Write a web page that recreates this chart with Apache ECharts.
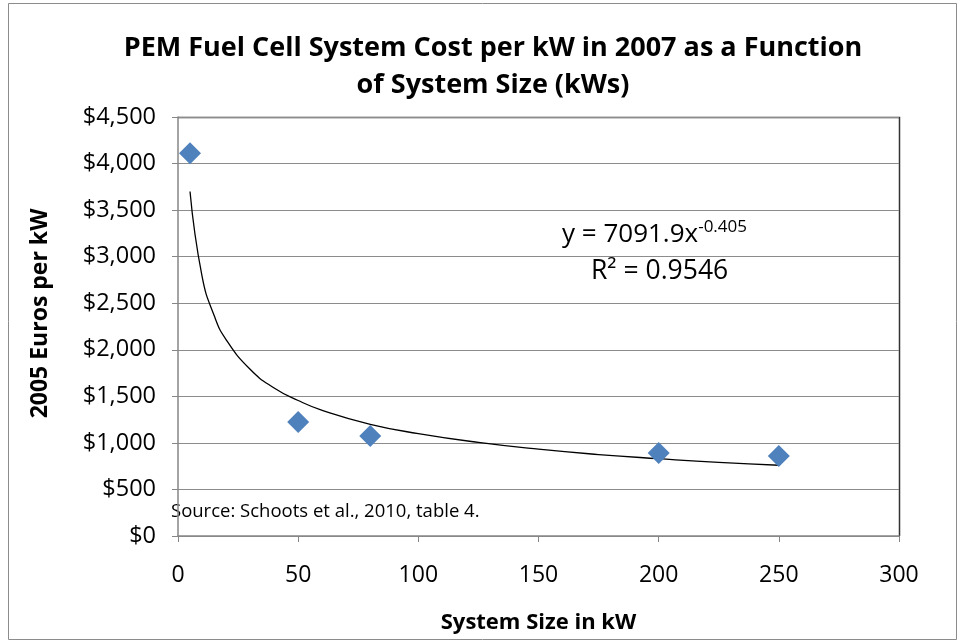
<!DOCTYPE html>
<html>
<head>
<meta charset="utf-8">
<script src="https://cdn.jsdelivr.net/npm/echarts@6/dist/echarts.min.js"></script>
<style>
  html, body { margin: 0; padding: 0; background: #fff; }
  #chart { width: 959px; height: 642px; }
</style>
</head>
<body>
<div id="chart"></div>
<script>
// observed points
const sizes = [5, 50, 80, 200, 250]
const costs = [4110, 1225, 1075, 892, 860]

// power trendline
const trendX = [5, 10, 15, 20, 30, 40, 50, 60, 80, 100, 125, 150, 175, 200, 225, 250]
const trendY = [3700, 2790, 2370, 2110, 1790, 1590, 1455, 1350, 1200, 1100, 1005, 932, 875, 830, 790, 760]

const xTicks = [0, 50, 100, 150, 200, 250, 300]
const yTicks = [0, 500, 1000, 1500, 2000, 2500, 3000, 3500, 4000, 4500]

const font = '"Open Sans", Lato, sans-serif'

const chart = echarts.init(document.getElementById('chart'))
chart.setOption({
  animation: false,
  title: {
    text: 'PEM Fuel Cell System Cost per kW in 2007 as a Function\nof System Size (kWs)',
    left: 488,
    top: 25,
    textAlign: 'center',
    textStyle: { fontFamily: font, fontSize: 27, fontWeight: 'bold', color: '#000', lineHeight: 37 }
  },
  grid: { left: 178, right: 60, top: 117, bottom: 106 },
  xAxis: {
    type: 'value',
    min: xTicks[0],
    max: xTicks[xTicks.length - 1],
    interval: 50,
    name: 'System Size in kW',
    nameLocation: 'middle',
    nameGap: 76,
    nameTextStyle: { fontFamily: font, fontSize: 22, fontWeight: 'bold', color: '#000' },
    axisLine: { lineStyle: { color: '#868686', width: 1.5 } },
    axisTick: { show: true, length: 6, lineStyle: { color: '#868686' } },
    axisLabel: { fontFamily: font, fontSize: 23, color: '#000', margin: 28 },
    splitLine: { show: false }
  },
  yAxis: {
    type: 'value',
    min: yTicks[0],
    max: yTicks[yTicks.length - 1],
    interval: 500,
    name: '2005 Euros per kW',
    nameLocation: 'middle',
    nameGap: 126,
    nameTextStyle: { fontFamily: font, fontSize: 23, fontWeight: 'bold', color: '#000', padding: [0, 0, 0, 26] },
    axisLine: { show: true, lineStyle: { color: '#868686', width: 1.5 } },
    axisTick: { show: true, length: 6, lineStyle: { color: '#868686' } },
    axisLabel: {
      fontFamily: font, fontSize: 23.5, color: '#000', margin: 22,
      formatter: v => '$' + v.toLocaleString('en-US')
    },
    splitLine: { show: true, lineStyle: { color: '#8c8c8c', width: 1.2 } }
  },
  series: [
    {
      name: 'trend',
      type: 'line',
      data: trendX.map((x, i) => [x, trendY[i]]),
      smooth: true,
      showSymbol: false,
      lineStyle: { color: '#000', width: 1.3 },
      z: 2
    },
    {
      name: 'cost',
      type: 'scatter',
      data: sizes.map((x, i) => [x, costs[i]]),
      symbol: 'diamond',
      symbolSize: [22, 22],
      itemStyle: { color: '#4F81BD', opacity: 1 },
      z: 3
    }
  ],
  graphic: [
    {
      type: 'rect',
      shape: { x: 8.5, y: 3.5, width: 948, height: 636 },
      style: { fill: null, stroke: '#8c8c8c', lineWidth: 1 },
      silent: true
    },
    {
      type: 'polyline',
      shape: { points: [[178, 117.5], [899.5, 117.5], [899.5, 536]] },
      style: { fill: null, stroke: '#333', lineWidth: 1.5 },
      silent: true
    },
    {
      type: 'text',
      left: 562,
      top: 219,
      style: {
        text: '{a|y = 7091.9x}{s|-0.405}',
        rich: {
          a: { fontFamily: font, fontSize: 26, fill: '#000' },
          s: { fontFamily: font, fontSize: 17, fill: '#000', verticalAlign: 'top', padding: [0, 0, 14, 0] }
        }
      }
    },
    {
      type: 'text',
      left: 591,
      top: 258,
      style: { text: 'R² = 0.9546', fontFamily: font, fontSize: 26.5, fill: '#000' }
    },
    {
      type: 'text',
      left: 171,
      top: 502,
      style: { text: 'Source: Schoots et al., 2010, table 4.', fontFamily: font, fontSize: 18.5, fill: '#000' }
    }
  ]
})
</script>
</body>
</html>
